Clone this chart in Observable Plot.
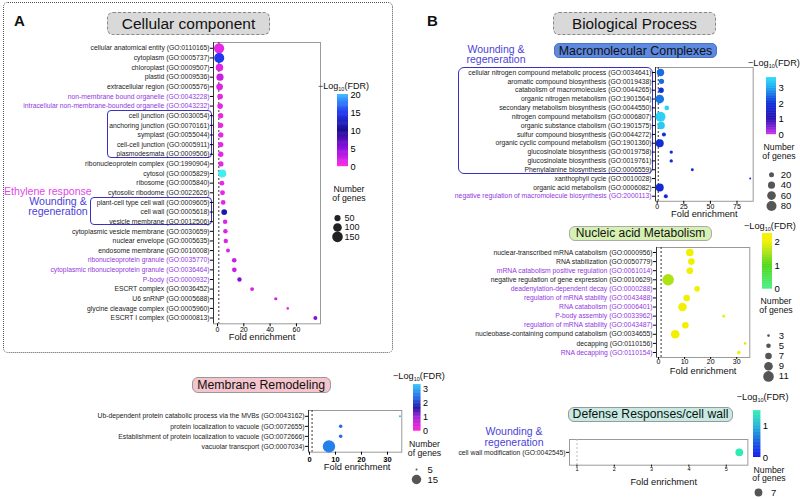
<!DOCTYPE html>
<html><head><meta charset="utf-8">
<script src="https://cdn.jsdelivr.net/npm/d3@7"></script>
<script src="https://cdn.jsdelivr.net/npm/@observablehq/plot@0.6"></script>
<style>
body{margin:0;background:#fff;}
#root{position:relative;width:800px;height:499px;overflow:hidden;font-family:"Liberation Sans",Arial,sans-serif;background:#fff;}
.t{position:absolute;white-space:nowrap;line-height:1;}
</style></head><body><div id="root"></div>
<script>
// ---------- DATA ----------
// Cellular component
const ccTerms = [
 "cellular anatomical entity (GO:0110165)","cytoplasm (GO:0005737)","chloroplast (GO:0009507)","plastid (GO:0009536)",
 "extracellular region (GO:0005576)","non-membrane bound organelle (GO:0043228)","intracellular non-membrane-bounded organelle (GO:0043232)",
 "cell junction (GO:0030054)","anchoring junction (GO:0070161)","symplast (GO:0055044)","cell-cell junction (GO:0005911)",
 "plasmodesmata (GO:0009506)","ribonucleoprotein complex (GO:1990904)","cytosol (GO:0005829)","ribosome (GO:0005840)",
 "cytosolic ribodome (GO:0022626)","plant-cell type cell wall (GO:0009605)","cell wall (GO:0005618)","vesicle membrane (GO:0012506)",
 "cytoplasmic vesicle membrane (GO:0030659)","nuclear envelope (GO:0005635)","endosome membrane (GO:0010008)",
 "ribonucleoprotein granule (GO:0035770)","cytoplasmic ribonucleoprotein granule (GO:0036464)","P-body (GO:0000932)",
 "ESCRT complex (GO:0036452)","U6 snRNP (GO:0005688)","glycine cleavage complex (GO:0005960)","ESCRT I complex (GO:0000813)"];
const ccFold  = [1.2,1.3,1.5,1.9,1.6,2.0,2.0,2.4,2.4,2.5,2.5,2.5,2.6,3.6,3.3,3.8,4.3,5.1,5.8,6.0,6.3,8.0,12.7,12.8,16.7,26.3,44.3,53.4,74.4];
const ccGenes = [140,135,75,68,60,42,42,38,38,37,37,37,36,88,32,32,30,45,27,27,27,21,29,29,26,20,14,9,21];
const ccFDR   = [1,15,1.5,2.5,1.5,1,1,1,1,1,1,1,1,22,1,1,1.2,11.5,1.5,1.5,1.5,1.5,2.5,2.5,5.5,2,2.2,1,5.5];
const ccPurple = [5,6,22,23,24];

// Membrane remodeling
const mrTerms = ["Ub-dependent protein catabolic process via the MVBs (GO:0043162)","protein localization to vacuole (GO:0072655)",
 "Establishment of protein localization to vacuole (GO:0072666)","vacuolar transcport (GO:0007034)"];
const mrFold  = [34.8,12,12,7.5];
const mrGenes = [5,7,7,19];
const mrFDR   = [3.2,2.4,2.4,2.6];

// Macromolecular complexes
const mcTerms = ["cellular nitrogen compound metabolic process (GO:0034641)","aromatic compound biosynthesis (GO:0019438)",
 "catabolism of macromolecules (GO:0044265)","organic nitrogen metabolism (GO:1901564)","secondary metabolism biosynthesis (GO:0044550)",
 "nitrogen compound metabolism (GO:0006807)","organic substance ctabolism (GO:1901575)","sulfur compound biosynthesis (GO:0044272)",
 "organic cyclic compound metabolism (GO:1901360)","glucosinolate biosynthesis (GO:0019758)","glucosinolate biosynthesis (GO:0019761)",
 "Phenylalanine biosynthesis (GO:0006559)","xanthophyll cycle (GO:0010028)","organic acid metabolism (GO:0006082)",
 "negative regulation of macromolecule biosynthesis (GO:2000113)"];
const mcFold  = [3.1,4.0,3.7,2.4,9.0,3.1,3.7,6.3,2.4,13.2,13.2,33.0,87.4,2.4,8.1];
const mcGenes = [44,23,23,60,17,80,44,13,51,9,9,7,3,51,13];
const mcFDR   = [2.5,2.5,2.0,2.6,3.5,3.5,3.4,2.0,1.9,1.9,1.9,1.9,1.9,1.8,1.9];
const mcPurple = [14];

// Nucleic acid metabolism
const naTerms = ["nuclear-transcribed mRNA catabolism (GO:0000956)","RNA stabilization (GO:0050779)",
 "mRNA catabolism positive regulation (GO:0061014)","negative regulation of gene expression (GO:0010629)",
 "deadenylation-dependent decay (GO:0000288)","regulation of mRNA stability (GO:0043488)","RNA catabolism (GO:0006401)",
 "P-body assembly (GO:0033962)","regulation of mRNA stability (GO:0043487)","nucleobase-containing compund catabolism (GO:0034655)",
 "decapping (GO:0110156)","RNA decapping (GO:0110154)"];
const naFold  = [12,12.6,12,3.7,14.8,10.8,9.2,25,10.3,6.4,33.2,30.8];
const naGenes = [8,7,7,12,6,7,9,3,7,9,3,4];
const naFDR   = [2,2,2,1.55,2,2,2,1.9,2,2,1.9,2];
const naPurple = [2,4,5,6,7,8,11];

// Defense responses / cell wall
const drTerms = ["cell wall modification (GO:0042545)"];
const drFold  = [5.35];
const drGenes = [7];
const drFDR   = [1.42];

// legend values
const ccSizeLegend = [50,100,150];
const mrSizeLegend = [5,15];
const mcSizeLegend = [20,40,60,80];
const naSizeLegend = [3,5,7,9,11];
const drSizeLegend = [7];

// ---------- SCALES ----------
const ccColor = {type:"linear", domain:[0,5,10,15,20,22], range:["#ff2ee8","#9010e0","#1c0c90","#2238f0","#3cb4ff","#40f0f0"]};
const mrColor = {type:"linear", domain:[0,1,1.6,2.3,3.31], range:["#ff20d8","#a020d8","#2010a0","#2060e8","#30c8f8"]};
const mcColor = {type:"linear", domain:[0,1,2,3,3.67], range:["#cc33ee","#2a10b0","#1030d8","#20a8f0","#30e0f8"]};
const naColor = {type:"linear", domain:[0,1,1.6,2,2.36], range:["#48f088","#50d818","#b4e414","#f0f000","#f8f000"]};
const drColor = {type:"linear", domain:[0,0.5,1,1.47], range:["#1010f0","#1060e0","#20b8d8","#30f0b0"]};
const ccR = {type:"sqrt", domain:[0,150], range:[0,5.3]};
const mrR = {type:"linear", domain:[5,15], range:[1,4.7]};
const mcR = {type:"sqrt", domain:[0,80], range:[0,5]};
const naR = {type:"linear", domain:[3,11], range:[1.3,5.3]};
const drR = {type:"sqrt", domain:[0,7], range:[0,3.9]};

// ---------- HELPERS ----------
const FONT = '"Liberation Sans", Arial, sans-serif';
const STYLE = {background:"transparent", overflow:"visible", fontFamily: FONT, maxWidth:"none"};
const INT = d3.format("d");
const root = document.getElementById("root");
function place(node, left, top) {
  const d = document.createElement("div");
  d.style.cssText = `position:absolute;left:${left}px;top:${top}px;`;
  d.appendChild(node); root.appendChild(d);
}
function txt(x, y, html, {size=10, color="#111", anchor="start", weight="normal", lh=null} = {}) {
  const d = document.createElement("div"); d.className = "t";
  const tx = anchor === "middle" ? "-50%" : anchor === "end" ? "-100%" : "0";
  d.style.cssText += `left:${x}px;top:${y}px;transform:translate(${tx},-50%);font-size:${size}px;color:${color};font-weight:${weight};text-align:${anchor==="middle"?"center":"left"};` + (lh ? `line-height:${lh}px;` : "");
  d.innerHTML = html; root.appendChild(d);
}
function box(x0, y0, x1, y1, {fill="none", stroke="none", dash="solid", width=1, radius=5, text="", size=12, color="#111"} = {}) {
  const d = document.createElement("div");
  d.style.cssText = `position:absolute;left:${x0}px;top:${y0}px;width:${x1-x0}px;height:${y1-y0}px;box-sizing:border-box;background:${fill};border:${stroke==="none"?"none":`${width}px ${dash} ${stroke}`};border-radius:${radius}px;display:flex;align-items:center;justify-content:center;font-size:${size}px;color:${color};white-space:nowrap;line-height:1;`;
  d.textContent = text; root.appendChild(d);
}
const logLabel = '&minus;Log<sub style="font-size:5.5px;vertical-align:-2px">10</sub>(FDR)';
const genesLabel = "Number<br>of genes";
function rows(terms, fold, genes, fdr, purple) {
  return terms.map((t, i) => ({term: t, fold: fold[i], genes: genes[i], fdr: fdr[i], purple: purple.includes(i)}));
}
const PURPLE = "#9236e0";
function dotPanel(c) {
  const f = c.frame, mL = c.mL, mR = 6, mT = 4, mB = 30;
  const data = c.rows;
  const svg = Plot.plot({
    width: mL + (f.x1 - f.x0) + mR, height: mT + (f.y1 - f.y0) + mB,
    marginLeft: mL, marginRight: mR, marginTop: mT, marginBottom: mB,
    style: STYLE,
    x: {domain: c.xDomain},
    y: {type: "point", domain: data.map(d => d.term), padding: c.pad, round: false},
    color: c.color, r: c.r,
    marks: [
      Plot.frame({stroke: "#9a9a9a"}),
      Plot.ruleX([c.xDomain[0]], {stroke: c.axisStroke || "#333"}),
      Plot.ruleX([1], {stroke: c.dashStroke || "#333", strokeDasharray: "2,2"}),
      Plot.axisX({ticks: c.xTicks, tickFormat: INT, tickSize: c.tickSize ?? 3, tickPadding: c.tickPad ?? 1, fontSize: c.tickFont ?? 7, fontWeight: c.tickWeight || "normal", label: null}),
      Plot.axisY({tickSize: 3, tickFormat: () => "", label: null}),
      Plot.text(data.filter(d => !d.purple), {y: "term", text: "term", frameAnchor: "left", textAnchor: "end", dx: -4, fontSize: 6.8, fill: "#1a1a1a"}),
      Plot.text(data.filter(d => d.purple), {y: "term", text: "term", frameAnchor: "left", textAnchor: "end", dx: -4, fontSize: 6.8, fill: PURPLE}),
      Plot.dot(data, {x: "fold", y: "term", r: "genes", fill: "fdr"}),
      Plot.text(["Fold enrichment"], {text: d => d, frameAnchor: "bottom", dy: c.foldDy, dx: c.foldDx || 0, fontSize: 9.3, fill: "#111"})
    ]
  });
  place(svg, f.x0 - mL, f.y0 - mT);
}
function colorBar(c) {
  const w = c.x1 - c.x0, h = c.y1 - c.y0, n = 80, st = c.max / n;
  const steps = d3.range(n).map(i => i * st);
  const svg = Plot.plot({
    width: w + 25, height: h, marginLeft: 0, marginRight: 25, marginTop: 0, marginBottom: 0,
    style: STYLE,
    x: {domain: [0, 1], axis: null},
    y: {domain: [0, c.max], range: [h, 0]},
    color: c.color,
    marks: [
      Plot.rect(steps, {x1: 0, x2: 1, y1: d => d, y2: d => Math.min(c.max, d + st * 1.6), fill: d => d + st / 2}),
      Plot.axisY({anchor: "right", ticks: c.ticks, tickFormat: INT, tickSize: 0, tickPadding: 2, fontSize: c.font || 9.5, label: null})
    ]
  });
  place(svg, c.x0, c.y0);
}
function sizeLegend(c) {
  const pad = 12, span = c.yLast - c.yFirst;
  const svg = Plot.plot({
    width: 50, height: span + 2 * pad, margin: 0, style: STYLE,
    x: {domain: [0, 1], range: [pad, pad + 1], axis: null},
    y: {type: "point", domain: c.values, range: [pad, pad + span], round: false, axis: null},
    r: c.r,
    marks: [
      Plot.dot(c.values, {x: 0, y: d => d, r: d => d, fill: c.fill}),
      Plot.text(c.values, {x: 0, y: d => d, text: d => String(d), dx: c.dx, textAnchor: "start", fontSize: c.font || 9.5, fill: "#111"})
    ]
  });
  place(svg, c.cx - pad, c.yFirst - pad);
}

// ---------- PANEL A ----------
box(3, 2, 393, 353, {stroke: "#555", dash: "dotted", radius: 5});
txt(14, 20, "A", {size: 15, weight: "bold"});
box(107, 11.7, 270, 35, {fill: "#d9d9d9", stroke: "#888", dash: "dashed", radius: 6, text: "Cellular component", size: 15.5});
box(107.3, 110, 211.7, 158.3, {stroke: "#3b2fc8", width: 1.3, radius: 4});
box(90, 196.7, 212, 225, {stroke: "#3b2fc8", width: 1.3, radius: 4});
txt(4, 190.7, "Ethylene response", {size: 10.6, color: "#e048e8"});
txt(58, 206.7, "Wounding &amp;<br>regeneration", {size: 10.6, color: "#4b3fd6", anchor: "middle", lh: 10.6});
dotPanel({rows: rows(ccTerms, ccFold, ccGenes, ccFDR, ccPurple), frame: {x0: 213, x1: 320, y0: 41.7, y1: 323},
  xDomain: [-3.04, 78.3], xTicks: [0, 20, 40, 60], pad: 0.6, mL: 215, color: ccColor, r: ccR, foldDy: 16.3, foldDx: -5, tickPad: 0.5});
txt(318, 86.5, logLabel, {size: 9});
colorBar({x0: 337, x1: 348, y0: 94.3, y1: 166.5, max: 20.2, ticks: [0, 5, 10, 15, 20], color: ccColor, font: 9.2});
txt(349, 194.2, genesLabel, {size: 8.7, anchor: "middle", lh: 8.7});
sizeLegend({cx: 337, yFirst: 212.7, yLast: 240.7, values: ccSizeLegend, r: ccR, fill: "#222", dx: 7, font: 9});

// Membrane remodeling
box(191.7, 377.3, 330.7, 393.3, {fill: "#f5c5cd", stroke: "#999", radius: 6, text: "Membrane Remodeling", size: 12.3});
dotPanel({rows: rows(mrTerms, mrFold, mrGenes, mrFDR, []), frame: {x0: 307.7, x1: 401, y0: 410, y1: 451.7},
  xDomain: [-0.38, 35.5], xTicks: [0, 10, 20, 30], pad: 0.58, mL: 220, color: mrColor, r: mrR, foldDy: 18.3, foldDx: 2,
  tickPad: 1.5, tickFont: 7.5, tickWeight: "bold"});
txt(393, 377, logLabel, {size: 9.2});
colorBar({x0: 413.3, x1: 420.7, y0: 384, y1: 430.7, max: 3.31, ticks: [0, 1, 2, 3], color: mrColor, font: 9});
txt(424.5, 448.9, genesLabel, {size: 8.7, anchor: "middle", lh: 8.7});
sizeLegend({cx: 415.7, yFirst: 464.3, yLast: 484.3, values: mrSizeLegend, r: mrR, fill: "#555", dx: 11});

// ---------- PANEL B ----------
txt(427, 20, "B", {size: 15, weight: "bold"});
box(553, 11.7, 716, 35, {fill: "#d9d9d9", stroke: "#888", dash: "dashed", radius: 6, text: "Biological Process", size: 15.3});

// Macromolecular complexes
box(554, 43.3, 717, 58.3, {fill: "#5d89e0", stroke: "#4a74c8", radius: 5, text: "Macromolecular Complexes", size: 12.4});
txt(496, 53.5, "Wounding &amp;<br>regeneration", {size: 10.5, color: "#4b3fd6", anchor: "middle", lh: 10.5});
box(458, 66.7, 653, 174, {stroke: "#3b2fc8", width: 1.3, radius: 6});
dotPanel({rows: rows(mcTerms, mcFold, mcGenes, mcFDR, mcPurple), frame: {x0: 655, x1: 752.7, y0: 66.7, y1: 200.5},
  xDomain: [-1.6, 90.2], xTicks: [0, 25, 50, 75], pad: 0.57, mL: 200, color: mcColor, r: mcR, foldDy: 15.8, tickPad: 0});
txt(748, 64, logLabel, {size: 9.2});
colorBar({x0: 766, x1: 776, y0: 77.3, y1: 134.5, max: 3.67, ticks: [0, 1, 2, 3], color: mcColor});
txt(779, 151.9, genesLabel, {size: 8.7, anchor: "middle", lh: 8.7});
sizeLegend({cx: 770.7, yFirst: 169, yLast: 210.7, values: mcSizeLegend, r: mcR, fill: "#555", dx: 9.3});

// Nucleic acid metabolism
box(569.3, 226, 711.7, 240.5, {fill: "#d6f1b2", stroke: "#aaa", radius: 6, text: "Nucleic acid Metabolism", size: 12});
dotPanel({rows: rows(naTerms, naFold, naGenes, naFDR, naPurple), frame: {x0: 655.7, x1: 749, y0: 246.5, y1: 356.5},
  xDomain: [-0.77, 35], xTicks: [0, 10, 20, 30], pad: 0.55, mL: 200, color: naColor, r: naR, foldDy: 17, tickSize: 2, tickPad: 0});
txt(744, 226.7, logLabel, {size: 9.2});
colorBar({x0: 761.7, x1: 771.7, y0: 233.3, y1: 289, max: 2.36, ticks: [0, 1, 2], color: naColor});
txt(776, 306, genesLabel, {size: 8.7, anchor: "middle", lh: 8.7});
sizeLegend({cx: 767.7, yFirst: 330, yLast: 381, values: naSizeLegend, r: naR, fill: "#555", dx: 10.3});

// Defense responses / cell wall
box(568.3, 406.7, 732.7, 421.7, {fill: "#c7ebe3", stroke: "#999", radius: 6, text: "Defense Responses/cell wall", size: 12.2});
txt(514, 436.4, "Wounding &amp;<br>regeneration", {size: 10.5, color: "#4b3fd6", anchor: "middle", lh: 10.5});
dotPanel({rows: rows(drTerms, drFold, drGenes, drFDR, []), frame: {x0: 569.3, x1: 747.7, y0: 439.3, y1: 465},
  xDomain: [0.8, 5.58], xTicks: [1, 2, 3, 4, 5], pad: 0.5, mL: 120, color: drColor, r: drR, foldDy: 20, foldDx: 5,
  tickSize: 2, tickPad: 0, tickFont: 5.5, axisStroke: "#9a9a9a", dashStroke: "#bbb"});
txt(736.7, 398.3, logLabel, {size: 9.2});
colorBar({x0: 752.7, x1: 760, y0: 410, y1: 457, max: 1.47, ticks: [0, 1], color: drColor});
txt(769, 474.7, genesLabel, {size: 8.7, anchor: "middle", lh: 8.7});
sizeLegend({cx: 758.3, yFirst: 492.3, yLast: 492.3, values: drSizeLegend, r: drR, fill: "#555", dx: 12.4});
</script></body></html>
